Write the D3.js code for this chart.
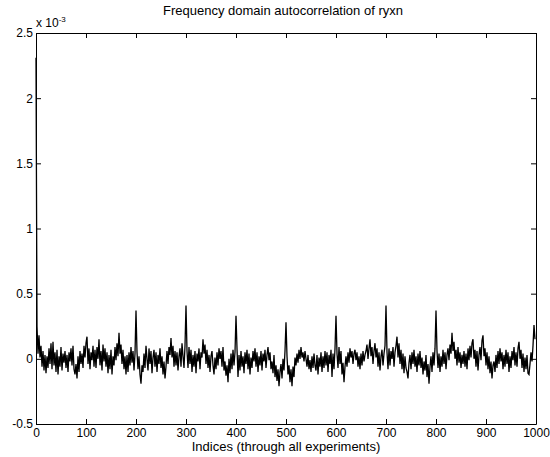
<!DOCTYPE html>
<html>
<head>
<meta charset="utf-8">
<script src="https://cdn.jsdelivr.net/npm/d3@7"></script>
<style>
  body { margin: 0; background: #fff; }
  text { font-family: "Liberation Sans", Arial, Helvetica, sans-serif; }
</style>
</head>
<body>
<div id="chart"></div>
<script>
var width = 550;
var height = 457;

var titleText = "Frequency domain autocorrelation of ryxn";
var xLabelText = "Indices (through all experiments)";

var xTicks = [0, 100, 200, 300, 400, 500, 600, 700, 800, 900, 1000];
var yTicks = [-0.5, 0, 0.5, 1, 1.5, 2, 2.5];   // in units of 1e-3

var sampleStep = 2; // one value read every 2 indices
// autocorrelation values (x 1e-3), indices 0, 2, 4, ... 998
var ryxn = [
  2.31, 0.25, 0.04, 0.18, 0.01, 0.10, -0.06, 0.06, -0.09, 0.03,
  -0.11, 0.02, -0.07, 0.08, -0.04, 0.12, -0.08, 0.13, -0.05, 0.05,
  -0.10, 0.07, -0.12, 0.02, -0.06, 0.09, -0.09, 0.04, -0.03, 0.06,
  -0.07, 0.03, -0.10, 0.05, -0.02, 0.08, -0.05, 0.10, -0.08, -0.12,
  -0.04, -0.15, 0.02, -0.10, 0.06, -0.04, 0.04, -0.07, 0.10, 0.01,
  0.12, 0.17, -0.04, 0.08, -0.08, 0.05, -0.01, 0.10, -0.06, 0.07,
  -0.07, 0.09, 0.00, 0.15, -0.05, 0.06, -0.09, 0.11, -0.02, 0.08,
  -0.06, 0.05, -0.11, 0.03, -0.08, 0.07, -0.12, 0.02, -0.05, 0.09,
  -0.01, 0.12, 0.02, 0.20, 0.04, 0.11, -0.04, 0.07, -0.08, 0.02,
  -0.12, 0.03, -0.10, 0.05, -0.05, 0.09, -0.03, 0.06, -0.09, 0.04,
  0.37, 0.05, -0.08, 0.02, -0.12, -0.19, -0.05, -0.10, 0.04, -0.07,
  0.10, 0.00, -0.09, 0.08, -0.04, 0.06, -0.11, 0.01, 0.07, -0.06,
  0.05, -0.10, 0.03, -0.04, 0.08, -0.07, 0.02, -0.12, -0.02, -0.15,
  -0.06, 0.06, -0.04, 0.09, 0.03, 0.16, 0.01, 0.10, -0.06, 0.06,
  -0.05, 0.05, -0.09, 0.02, 0.08, -0.06, 0.12, 0.02, -0.07, 0.10,
  0.41, 0.06, -0.07, 0.09, -0.04, 0.07, -0.10, 0.03, -0.06, 0.06,
  -0.11, 0.04, -0.02, 0.08, -0.08, 0.05, 0.01, 0.15, 0.04, 0.11,
  -0.04, 0.07, -0.07, 0.03, -0.10, 0.02, 0.06, -0.05, -0.12, 0.01,
  -0.08, 0.05, -0.05, 0.08, 0.00, 0.06, -0.06, 0.09, -0.09, -0.02,
  -0.13, -0.05, -0.18, 0.00, -0.11, 0.04, -0.08, 0.07, -0.05, 0.05,
  0.33, 0.08, -0.14, 0.03, -0.09, 0.06, -0.06, 0.02, -0.11, 0.05,
  -0.04, 0.07, -0.08, 0.04, -0.12, 0.01, -0.07, 0.06, -0.02, 0.08,
  -0.06, 0.05, -0.10, 0.02, -0.05, 0.06, -0.09, 0.04, -0.02, 0.07,
  -0.07, 0.03, 0.09, -0.01, 0.05, -0.08, -0.02, -0.11, 0.03, -0.14,
  -0.05, -0.17, -0.08, -0.21, -0.10, -0.04, -0.15, 0.00, -0.09, 0.06,
  0.28, 0.02, -0.12, -0.05, -0.18, -0.08, -0.21, -0.06, -0.14, 0.01,
  -0.05, 0.04, -0.03, 0.07, 0.00, 0.09, 0.01, 0.05, -0.02, 0.06,
  0.00, -0.06, 0.03, -0.08, -0.01, -0.10, 0.02, -0.07, 0.04, -0.05,
  -0.09, 0.03, -0.12, 0.01, -0.06, 0.05, -0.10, 0.02, -0.07, 0.06,
  -0.05, 0.05, -0.10, 0.03, -0.04, 0.07, -0.14, 0.04, -0.08, 0.08,
  0.33, 0.04, -0.07, 0.09, -0.04, 0.06, -0.12, -0.03, -0.18, -0.06,
  0.02, -0.06, 0.05, -0.03, 0.08, 0.01, 0.06, -0.04, 0.04, 0.07,
  -0.01, 0.05, -0.06, 0.02, -0.08, 0.04, -0.05, 0.06, -0.02, 0.03,
  0.06, 0.11, 0.00, 0.08, 0.15, 0.02, 0.09, -0.04, 0.06, 0.12,
  0.01, 0.08, -0.06, 0.05, -0.09, 0.02, 0.07, -0.05, 0.04, 0.10,
  0.41, 0.05, -0.08, 0.08, -0.05, 0.06, 0.00, 0.09, -0.06, 0.05,
  0.10, 0.17, 0.01, 0.12, -0.04, 0.07, -0.08, 0.04, -0.11, 0.02,
  -0.07, -0.10, -0.15, -0.03, 0.03, -0.08, 0.05, -0.04, 0.07, -0.06,
  0.02, -0.10, 0.04, -0.05, 0.06, -0.07, 0.01, -0.12, -0.02, -0.09,
  0.03, -0.14, -0.04, -0.19, -0.06, 0.02, -0.10, 0.05, -0.05, 0.08,
  0.37, 0.06, -0.07, 0.04, -0.10, 0.02, -0.06, 0.07, -0.04, 0.05,
  -0.08, 0.03, 0.08, -0.01, 0.11, 0.04, 0.20, 0.06, 0.13, 0.00,
  0.07, -0.05, 0.09, -0.03, 0.05, -0.07, 0.03, -0.04, 0.06, -0.06,
  0.04, -0.08, 0.08, -0.01, 0.10, 0.01, 0.12, 0.15, 0.00, 0.07,
  -0.06, 0.06, -0.09, 0.03, 0.09, -0.01, 0.14, 0.18, 0.02, 0.08,
  -0.05, 0.05, -0.08, 0.02, -0.11, -0.02, -0.15, -0.05, -0.02, -0.10,
  0.03, -0.07, 0.06, -0.04, 0.08, -0.02, 0.05, -0.08, 0.03, -0.06,
  0.07, -0.04, 0.05, -0.10, 0.02, -0.07, 0.06, -0.01, 0.09, -0.05,
  0.05, -0.06, 0.08, 0.13, 0.00, 0.07, -0.07, 0.04, -0.10, 0.01,
  -0.08, 0.03, -0.11, -0.12, -0.04, 0.05, -0.02, 0.10, 0.26, 0.15
];

// plot box (window.top is reserved, so use other names)
var plotLeft = 36, plotRight = 536, plotTop = 33, plotBottom = 424;

var xScale = d3.scaleLinear().domain([0, 1000]).range([plotLeft, plotRight]);
var yScale = d3.scaleLinear().domain([-0.5, 2.5]).range([plotBottom, plotTop]);

var svg = d3.select("#chart")
    .append("svg")
    .attr("width", width)
    .attr("height", height);

/* ticks point inward, like matlab */
var xAxis = d3.axisBottom(xScale).tickValues(xTicks)
    .tickSizeInner(-5).tickSizeOuter(0).tickPadding(4)
    .tickFormat(d3.format("d"));
var xAxisTop = d3.axisTop(xScale).tickValues(xTicks)
    .tickSizeInner(-5).tickSizeOuter(0).tickFormat("");
var yAxis = d3.axisLeft(yScale).tickValues(yTicks)
    .tickSizeInner(-5).tickSizeOuter(0).tickPadding(3)
    .tickFormat(function (d) { return String(d); });
var yAxisRight = d3.axisRight(yScale).tickValues(yTicks)
    .tickSizeInner(-5).tickSizeOuter(0).tickFormat("");

// data line
var line = d3.line()
    .x(function (d, i) { return xScale(i * sampleStep); })
    .y(function (d) { return yScale(d); });

svg.append("path")
    .attr("d", line(ryxn))
    .style("fill", "none")
    .style("stroke", "#000")
    .style("stroke-width", 1.3)
    .style("stroke-linejoin", "miter");

function styleAxis(g) {
    g.selectAll("path, line").attr("stroke", "#000").attr("stroke-width", 1);
    g.selectAll("text").attr("fill", "#000").style("font-size", "12px")
        .style("font-family", "'Liberation Sans', Arial, sans-serif");
}

svg.append("g").attr("transform", "translate(0," + plotBottom + ")").call(xAxis).call(styleAxis);
svg.append("g").attr("transform", "translate(0," + plotTop + ")").call(xAxisTop).call(styleAxis);
svg.append("g").attr("transform", "translate(" + plotLeft + ",0)").call(yAxis).call(styleAxis);
svg.append("g").attr("transform", "translate(" + plotRight + ",0)").call(yAxisRight).call(styleAxis);

// exponent label
var expo = svg.append("text")
    .attr("x", plotLeft)
    .attr("y", 27)
    .style("font-size", "12px");
expo.append("tspan").text("x 10");
expo.append("tspan").attr("dy", -5).style("font-size", "8px").text("-3");

svg.append("text")
    .attr("x", 283)
    .attr("y", 15)
    .attr("text-anchor", "middle")
    .style("font-size", "13px")
    .text(titleText);

svg.append("text")
    .attr("x", 286)
    .attr("y", 451)
    .attr("text-anchor", "middle")
    .style("font-size", "13px")
    .text(xLabelText);
</script>
</body>
</html>
